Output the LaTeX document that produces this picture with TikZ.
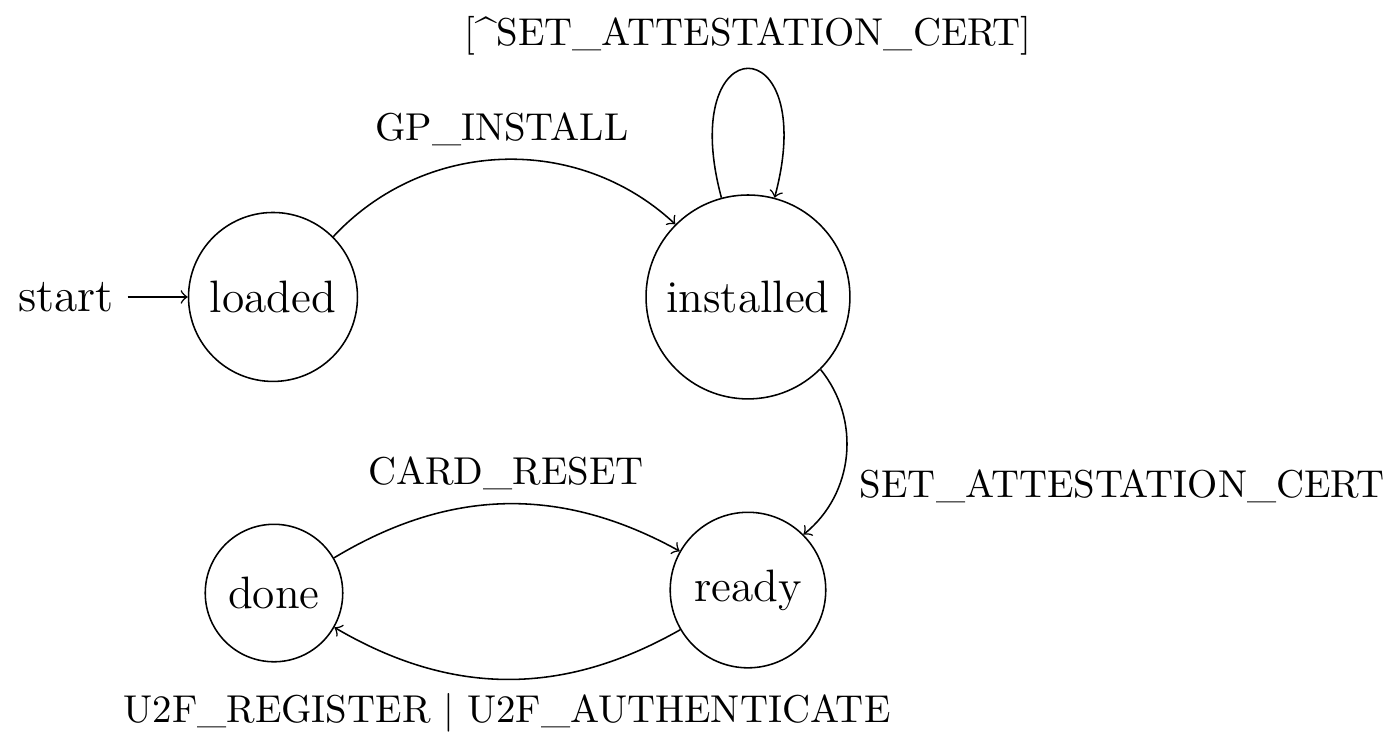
\documentclass[tikz,border=0pt]{standalone}
\usetikzlibrary{automata}
\begin{document}
\begin{tikzpicture}[->,auto,font=\fontsize{11.7}{14}\selectfont,
    every state/.style={draw,circle,inner sep=4pt},
    every initial by arrow/.style={font=\fontsize{12.2}{14}\selectfont},
    initial distance=3.6ex,
    every loop/.style={min distance=5mm,looseness=8.6},
    lbl/.style={font=\fontsize{10}{12}\selectfont}]
    \useasboundingbox (0,0) rectangle (12.65,6.737);

    \node[state,initial] (loaded) at (2.472,4.048) {loaded};
    \node[state] (installed) at (6.773,4.048) {installed};
    \node[state] (done) at (2.481,1.367) {done};
    \node[state] (ready) at (6.773,1.394) {ready};

    \draw (loaded) edge[bend left=45] node[lbl] {GP\_INSTALL} (installed);
    \draw (installed) edge[loop above] node[lbl] {[\textasciicircum SET\_ATTESTATION\_CERT]} ();
    \draw (installed) edge[bend left=45] node[lbl] {SET\_ATTESTATION\_CERT} (ready);
    \draw (done) edge[bend left] node[lbl] {CARD\_RESET} (ready);
    \draw (ready) edge[bend left] node[lbl] {U2F\_REGISTER | U2F\_AUTHENTICATE} (done);
\end{tikzpicture}
\end{document}
